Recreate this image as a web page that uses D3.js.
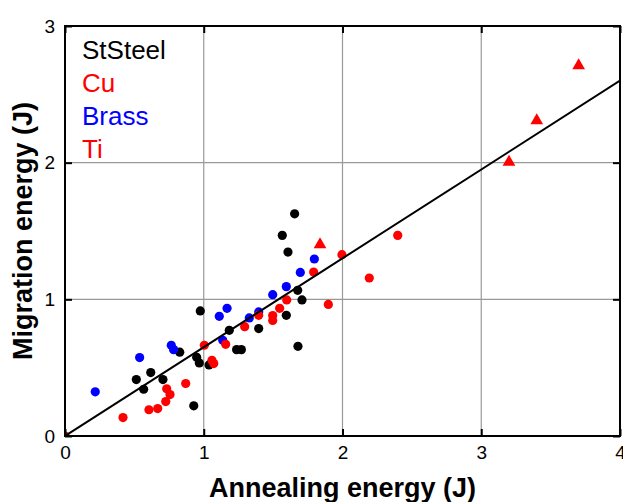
<!DOCTYPE html>
<html>
  <head>
    <meta charset="utf-8">
    <title></title>
    <script src="https://cdnjs.cloudflare.com/ajax/libs/d3/7.8.5/d3.min.js" charset="utf-8"></script>
    <style media="screen">
    body {margin:0; background:#fff;}
    text {font-family: Arial, "Liberation Sans", sans-serif;}
    </style>
    <script>
    // data, [annealing, migration]
    var stSteel=[[1.655,1.626],[1.566,1.468],[1.607,1.346],[1.677,1.066],[1.708,0.996],
      [1.595,0.883],[1.679,0.656],[0.975,0.915],[1.184,0.773],[1.396,0.786],[1.237,0.632],
      [1.271,0.632],[1.038,0.520],[0.949,0.576],[0.968,0.535],[0.827,0.613],[0.928,0.221],
      [0.514,0.413],[0.618,0.464],[0.567,0.342],[0.706,0.413]];
    var cu=[[0,0],[2.398,1.468],[1.996,1.327],[2.193,1.156],[1.898,0.963],[1.792,1.200],
      [1.598,0.996],[1.547,0.934],[1.497,0.881],[1.497,0.846],[1.396,0.883],[1.295,0.800],
      [1.158,0.671],[1.004,0.664],[1.059,0.554],[1.072,0.530],[0.870,0.384],[0.733,0.345],
      [0.757,0.303],[0.726,0.252],[0.605,0.192],[0.668,0.201],[0.418,0.135]];
    var brass=[[1.797,1.295],[1.696,1.197],[1.595,1.093],[1.497,1.034],[1.168,0.934],
      [1.112,0.876],[1.328,0.864],[1.396,0.908],[1.137,0.700],[0.766,0.664],[0.783,0.632],
      [0.538,0.574],[0.218,0.323]];
    var ti=[[1.838,1.40],[3.2,2.004],[3.4,2.308],[3.702,2.71]];
    var fitLine=[[0,0],[4,2.6]];
    var xTicks=[0,1,2,3,4];
    var yTicks=[0,1,2,3];
    var legendNames=['StSteel','Cu','Brass','Ti'];
    var legendColors=['#000','#F00','#00F','#F00'];

    window.onload=function (){
      var svg=d3.select('#svg1');
      var left=65, top=26, w=555, h=410;
      var g=svg.append('g').attr('transform','translate('+left+','+top+')');

      var x=d3.scaleLinear().domain([0,4]).range([0,w]);
      var y=d3.scaleLinear().domain([0,3]).range([h,0]);

      svg.append('clipPath').attr('id','clip')
        .append('rect').attr('width',w).attr('height',h);

      // grid
      g.selectAll('.gx').data(xTicks.slice(1,-1)).enter().append('line')
        .attr('x1',d=>x(d)).attr('x2',d=>x(d)).attr('y1',0).attr('y2',h)
        .attr('stroke','#999').attr('stroke-width',1.2);
      g.selectAll('.gy').data(yTicks.slice(1,-1)).enter().append('line')
        .attr('y1',d=>y(d)).attr('y2',d=>y(d)).attr('x1',0).attr('x2',w)
        .attr('stroke','#999').attr('stroke-width',1.2);

      var pts=g.append('g').attr('clip-path','url(#clip)');
      function dots(arr,color){
        pts.append('g').selectAll('circle').data(arr).enter().append('circle')
          .attr('cx',d=>x(d[0])).attr('cy',d=>y(d[1])).attr('r',4.6).attr('fill',color);
      }
      dots(stSteel,'#000');
      dots(brass,'#00F');
      dots(cu,'#F00');
      pts.append('g').selectAll('path').data(ti).enter().append('path')
        .attr('d',d3.symbol().type(d3.symbolTriangle).size(70))
        .attr('transform',d=>'translate('+x(d[0])+','+y(d[1])+')')
        .attr('fill','#F00');

      pts.append('path').datum(fitLine)
        .attr('d',d3.line().x(d=>x(d[0])).y(d=>y(d[1])))
        .attr('stroke','#000').attr('stroke-width',2).attr('fill','none');

      // axes, ticks inward on all four sides
      function ax(axis,tr){
        var a=g.append('g').attr('transform',tr).call(axis);
        a.select('.domain').remove();
        a.selectAll('line').attr('stroke','#000').attr('stroke-width',2);
        return a;
      }
      var xb=ax(d3.axisBottom(x).tickValues(xTicks).tickSize(-7).tickPadding(10)
        .tickFormat(d3.format('d')),'translate(0,'+h+')');
      xb.selectAll('text').attr('font-size',19).attr('fill','#000');
      ax(d3.axisTop(x).tickValues(xTicks).tickSize(-7).tickFormat(''),'translate(0,0)');
      var yl=ax(d3.axisLeft(y).tickValues(yTicks).tickSize(-7).tickPadding(10)
        .tickFormat(d3.format('d')),'translate(0,0)');
      yl.selectAll('text').attr('font-size',19).attr('fill','#000');
      ax(d3.axisRight(y).tickValues(yTicks).tickSize(-7).tickFormat(''),'translate('+w+',0)');

      g.append('rect').attr('width',w).attr('height',h)
        .attr('fill','none').attr('stroke','#000').attr('stroke-width',2);

      // legend
      g.selectAll('.leg').data(legendNames).enter().append('text')
        .attr('x',17).attr('y',(d,i)=>33+i*33)
        .attr('font-size',26).attr('fill',(d,i)=>legendColors[i]).text(d=>d);

      svg.append('text').attr('x',left+w/2).attr('y',497)
        .attr('text-anchor','middle').attr('font-size',27).attr('font-weight','bold')
        .text('Annealing energy (J)');
      svg.append('text').attr('transform','translate(32,'+(top+h/2)+') rotate(-90)')
        .attr('text-anchor','middle').attr('font-size',27).attr('font-weight','bold')
        .text('Migration energy (J)');
    };
    </script>
  </head>
  <body>
    <svg id="svg1" width="623" height="502"></svg>
  </body>
</html>
